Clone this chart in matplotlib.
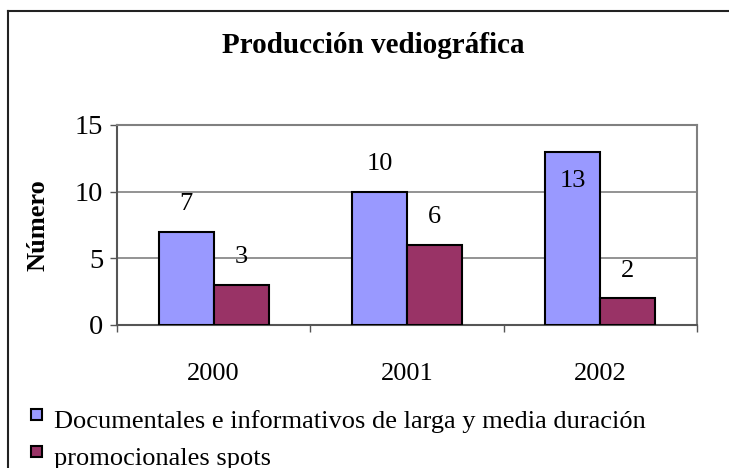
import matplotlib
matplotlib.use("Agg")
import matplotlib.pyplot as plt
from matplotlib.patches import Rectangle, Patch
from matplotlib.lines import Line2D
from matplotlib.legend_handler import HandlerPatch

# data
years = ["2000", "2001", "2002"]
documentales = [7, 10, 13]
promocionales = [3, 6, 2]
series_names = ["Documentales e informativos de larga y media duración",
                "promocionales spots"]

plt.rcParams['font.family'] = ['Liberation Serif', 'DejaVu Serif']

fig = plt.figure(figsize=(7.29, 4.68), dpi=100)
ax = fig.add_axes([117 / 729, 1 - 325 / 468, 580 / 729, 200 / 468])

x = list(range(len(years)))
w = 0.285
ax.bar([i - w / 2 for i in x], documentales, w, color='#9999FF',
       edgecolor='black', linewidth=1.5, zorder=3)
ax.bar([i + w / 2 for i in x], promocionales, w, color='#993366',
       edgecolor='black', linewidth=1.5, zorder=3)

# value labels above the bars (inside when there is no room)
for xs, vals in (([i - w / 2 for i in x], documentales),
                 ([i + w / 2 for i in x], promocionales)):
    for xi, v in zip(xs, vals):
        off = 20 if v + 2.2 < 15 else -21
        ax.annotate(str(v), (xi, v), xytext=(0, off), textcoords='offset points',
                    ha='center', va='center', fontsize=19, zorder=4)

ax.set_xlim(-0.5, 2.5)
ax.set_ylim(0, 15)
ax.set_yticks([0, 5, 10, 15])
ax.set_xticks(x)
ax.set_xticklabels(years)
ax.set_xticks([-0.5, 0.5, 1.5, 2.5], minor=True)
ax.tick_params(axis='x', which='major', length=0, pad=27, labelsize=19)
ax.tick_params(axis='x', which='minor', length=5, width=1, color='#555555',
               direction='out')
ax.tick_params(axis='y', length=5, width=1, color='#555555', direction='out',
               pad=5, labelsize=20.5)
ax.yaxis.grid(True, color='#808080', linewidth=1.2, zorder=0)
ax.set_axisbelow(True)
for s in ('top', 'right'):
    ax.spines[s].set_color('#808080')
    ax.spines[s].set_linewidth(1.5)
for s in ('left', 'bottom'):
    ax.spines[s].set_color('#555555')
    ax.spines[s].set_linewidth(1.5)

fig.text(38 / 729, 1 - 225 / 468, "Número", rotation=90, fontsize=19,
         fontweight='bold', ha='center', va='center')
fig.text(373 / 729, 1 - 53 / 468, "Producción vediográfica", fontsize=21,
         fontweight='bold', ha='center', va='baseline')


# legend squares sit a bit higher than the text
def square(legend, orig_handle, xdescent, ydescent, width, height, fontsize):
    return Rectangle((-xdescent, -ydescent + height * 0.45), width, width)


handles = [Patch(facecolor='#9999FF', edgecolor='black', linewidth=1.5),
           Patch(facecolor='#993366', edgecolor='black', linewidth=1.5)]
fig.legend(handles, series_names, loc='upper left',
           bbox_to_anchor=(31 / 729, 1 - 410 / 468), frameon=False,
           fontsize=19, handlelength=0.42, handleheight=0.7,
           handletextpad=0.45, labelspacing=0.5, borderpad=0, borderaxespad=0,
           handler_map={Patch: HandlerPatch(patch_func=square)})

# outer chart frame (only top and left edges are visible)
fig.add_artist(Line2D([8 / 729, 1], [1 - 11 / 468, 1 - 11 / 468],
                      transform=fig.transFigure, color='#222222', linewidth=1.5))
fig.add_artist(Line2D([8 / 729, 8 / 729], [1 - 11 / 468, 0],
                      transform=fig.transFigure, color='#222222', linewidth=1.5))

fig.savefig("out.png", dpi=100)
